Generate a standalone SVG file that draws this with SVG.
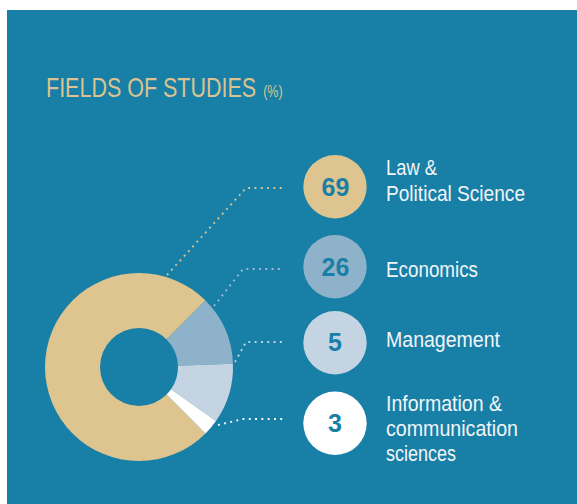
<svg xmlns="http://www.w3.org/2000/svg" width="577" height="504" viewBox="0 0 577 504">
<style>
.lbl{font-family:"Liberation Sans",Arial,sans-serif;font-size:22px;fill:#f2f5f8}
.num{font-family:"Liberation Sans",Arial,sans-serif;font-size:25px;font-weight:bold;fill:#187fa6;text-anchor:middle}
.dot{fill:none;stroke-width:1.9;stroke-dasharray:1.9 4.4}
.title{font-family:"Liberation Sans",Arial,sans-serif;fill:#dcc38f}
</style>
<rect x="0" y="0" width="577" height="504" fill="#ffffff"/>
<rect x="7" y="10" width="570" height="494" fill="#187fa6"/>
<g id="title">
<text class="title" transform="translate(46,97) scale(1,1.3)" x="0" y="0" font-size="21.5">FIELDS OF STUDIES<tspan dx="7" font-size="12.5">(%)</tspan></text>
</g>
<g id="donut">
<path d="M205.47 433.47 A94 94 0 1 1 205.47 300.53 L166.58 339.42 A39 39 0 1 0 166.58 394.58 Z" fill="#dec48f"/>
<path d="M205.47 300.53 A94 94 0 0 1 232.94 363.72 L177.98 365.64 A39 39 0 0 0 166.58 339.42 Z" fill="#8fb2cb"/>
<path d="M232.94 363.72 A94 94 0 0 1 216.0 420.92 L170.95 389.37 A39 39 0 0 0 177.98 365.64 Z" fill="#c5d4e3"/>
<path d="M216.0 420.92 A94 94 0 0 1 205.47 433.47 L166.58 394.58 A39 39 0 0 0 170.95 389.37 Z" fill="#ffffff"/>
</g>
<g id="connectors">
<polyline class="dot" stroke="#dec48f" points="167,275 246,188 285,188"/>
<polyline class="dot" stroke="#9dbbd2" points="214,306 243,269 283,269"/>
<polyline class="dot" stroke="#c5d4e3" points="235,362 246,342 285,342"/>
<polyline class="dot" stroke="#ffffff" points="218,425 243,419 285,419"/>
</g>
<g id="law">
<circle cx="335" cy="186.7" r="31.7" fill="#dec48f"/>
<text class="num" x="335.5" y="195.5">69</text>
<text class="lbl" x="386" y="175" textLength="51" lengthAdjust="spacingAndGlyphs">Law &amp;</text>
<text class="lbl" x="386" y="201" textLength="139" lengthAdjust="spacingAndGlyphs">Political Science</text>
</g>
<g id="economics">
<circle cx="335" cy="266.7" r="31.7" fill="#8fb2cb"/>
<text class="num" x="335.5" y="275.5">26</text>
<text class="lbl" x="386" y="277" textLength="92" lengthAdjust="spacingAndGlyphs">Economics</text>
</g>
<g id="management">
<circle cx="335" cy="342.7" r="31.7" fill="#c5d4e3"/>
<text class="num" x="335" y="351">5</text>
<text class="lbl" x="386" y="347" textLength="114" lengthAdjust="spacingAndGlyphs">Management</text>
</g>
<g id="info">
<circle cx="335" cy="423.3" r="31.7" fill="#ffffff"/>
<text class="num" x="335" y="431.5">3</text>
<text class="lbl" x="386" y="411" textLength="116" lengthAdjust="spacingAndGlyphs">Information &amp;</text>
<text class="lbl" x="386" y="436" textLength="132" lengthAdjust="spacingAndGlyphs">communication</text>
<text class="lbl" x="386" y="461" textLength="70" lengthAdjust="spacingAndGlyphs">sciences</text>
</g>
</svg>
